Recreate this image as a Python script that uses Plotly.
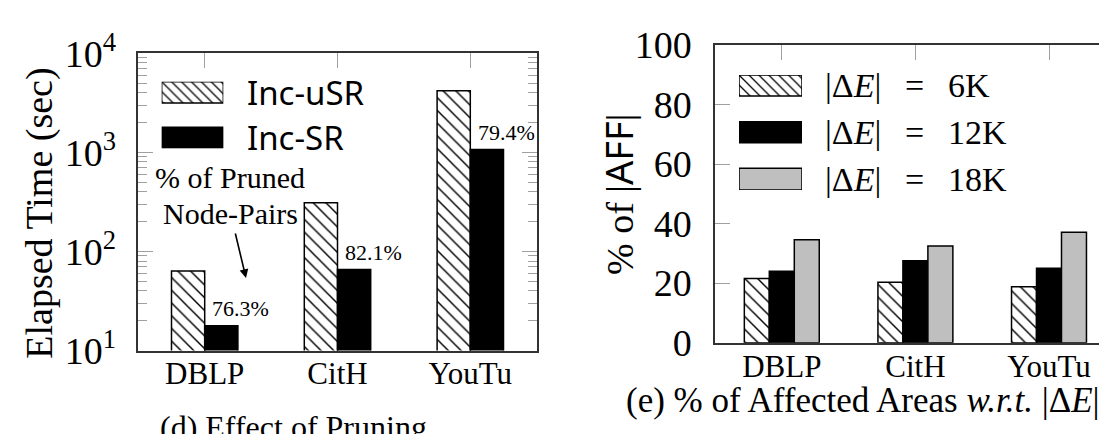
import math
import plotly.graph_objects as go

# ---------------- data ----------------
datasets = ["DBLP", "CitH", "YouTu"]
inc_usr = [63.4, 310, 4190]
inc_sr = [17.8, 65.6, 1070]
pruned_pct = ["76.3%", "82.1%", "79.4%"]

aff_6k = [21.6, 20.3, 18.8]
aff_12k = [24.0, 27.5, 25.0]
aff_18k = [34.6, 32.5, 37.1]

left_yticks = [10, 100, 1000, 10000]
left_yticktext = ["10<sup>1</sup>", "10<sup>2</sup>", "10<sup>3</sup>", "10<sup>4</sup>"]
right_yticks = [0, 20, 40, 60, 80, 100]

W, H = 1107, 434
OFF = 8  # page body margin of the html page

def fx(px):
    return (px - OFF) / W

def fy(py):
    return 1 - (py - OFF) / H

SERIF = "Liberation Serif"
SANS = "Noto Sans"
FRAME = "#333333"
TICK = "#a0a0a0"
GRAY = "#bfbfbf"

hatch = dict(shape="\\", fgcolor="black", bgcolor="white", size=9, solidity=0.16, fillmode="replace")
hatch_leg = dict(shape="\\", fgcolor="black", bgcolor="white", size=7, solidity=0.18, fillmode="replace")
edge = dict(color="black", width=1.5)

fig = go.Figure()

# ---- left chart (d) ----
fig.add_trace(go.Bar(x=datasets, y=inc_usr, xaxis="x", yaxis="y", width=0.25, offset=-0.25,
                     marker=dict(color="white", pattern=hatch, line=edge), showlegend=False))
fig.add_trace(go.Bar(x=datasets, y=inc_sr, xaxis="x", yaxis="y", width=0.25, offset=0.0,
                     marker=dict(color="black", line=edge), showlegend=False))

# ---- right chart (e) ----
bw = 0.187
fig.add_trace(go.Bar(x=datasets, y=aff_6k, xaxis="x2", yaxis="y2", width=bw, offset=-1.5 * bw,
                     marker=dict(color="white", pattern=hatch, line=edge), showlegend=False))
fig.add_trace(go.Bar(x=datasets, y=aff_12k, xaxis="x2", yaxis="y2", width=bw, offset=-0.5 * bw,
                     marker=dict(color="black", line=edge), showlegend=False))
fig.add_trace(go.Bar(x=datasets, y=aff_18k, xaxis="x2", yaxis="y2", width=bw, offset=0.5 * bw,
                     marker=dict(color=GRAY, line=edge), showlegend=False))

# ---- legend swatches (custom legend boxes) ----
def swatch(ax, ay, base, height, color, pattern=None):
    m = dict(color=color, line=edge)
    if pattern is not None:
        m["pattern"] = pattern
    return go.Bar(x=[0.5], y=[height], base=[base], width=1, offset=-0.5, xaxis=ax, yaxis=ay,
                  marker=m, showlegend=False, hoverinfo="skip")

fig.add_trace(swatch("x3", "y3", 45.3, 21.3, "white", hatch_leg))
fig.add_trace(swatch("x3", "y3", 0, 21.0, "black"))
fig.add_trace(swatch("x4", "y4", 94, 21.0, "white", hatch_leg))
fig.add_trace(swatch("x4", "y4", 47.3, 21.0, "black"))
fig.add_trace(swatch("x4", "y4", 0, 21.7, GRAY))

common_x = dict(type="category", range=[-0.5, 2.5], showline=True, linecolor=FRAME, linewidth=1.5,
                ticks="inside", ticklen=15, tickcolor=TICK, tickwidth=1, mirror="allticks",
                showgrid=False, zeroline=False, layer="below traces", automargin=False,
                ticklabelstandoff=-5,
                tickfont=dict(family=SERIF, size=31, color="black"))

minor_vals = [m * 10 ** k for k in range(1, 4) for m in range(2, 10)]
hidden = dict(visible=False, fixedrange=True, automargin=False, showgrid=False, zeroline=False)

fig.update_layout(
    template="none",
    width=W, height=H, margin=dict(l=0, r=0, t=0, b=0, autoexpand=False),
    paper_bgcolor="white", plot_bgcolor="white", barmode="group",
    xaxis=dict(common_x, domain=[fx(138.3), fx(536.7)], anchor="y"),
    yaxis=dict(type="log", range=[1, 4], domain=[fy(350.5), fy(53.3)], anchor="x",
               tickmode="array", tickvals=left_yticks, ticktext=left_yticktext,
               showline=True, linecolor=FRAME, linewidth=1.5, mirror="ticks",
               ticks="inside", ticklen=15, tickcolor=TICK, showgrid=False, zeroline=False,
               ticklabelstandoff=13, layer="below traces", automargin=False,
               minor=dict(tickmode="array", tickvals=minor_vals, ticks="inside", ticklen=9,
                          tickcolor=TICK, showgrid=False),
               tickfont=dict(family=SERIF, size=38, color="black")),
    xaxis2=dict(common_x, domain=[fx(715), fx(1107)], range=[-0.5, 2 + (1107 - 1049) / 133.6],
                anchor="y2"),
    yaxis2=dict(range=[0, 100], domain=[fy(342.7), fy(45)], anchor="x2",
                tickmode="array", tickvals=right_yticks,
                showline=True, linecolor=FRAME, linewidth=1.5, mirror=False,
                ticks="inside", ticklen=15, tickcolor=TICK, showgrid=False, zeroline=False,
                ticklabelstandoff=14, layer="below traces", automargin=False,
                tickfont=dict(family=SERIF, size=38, color="black")),
    yaxis5=dict(range=[0, 100], overlaying="y2", side="right", anchor="x2",
                tickmode="array", tickvals=right_yticks, ticks="inside", ticklen=7, tickcolor=TICK,
                showticklabels=False, showline=False, showgrid=False, zeroline=False, automargin=False),
    xaxis3=dict(hidden, range=[0, 1], domain=[fx(161.7), fx(223.3)], anchor="y3"),
    yaxis3=dict(hidden, range=[0, 66.6], domain=[fy(148.3), fy(81.7)], anchor="x3"),
    xaxis4=dict(hidden, range=[0, 1], domain=[fx(739), fx(802)], anchor="y4"),
    yaxis4=dict(hidden, range=[0, 115], domain=[fy(190), fy(75)], anchor="x4"),
)

ann = []
# percent labels above Inc-SR bars
for i, (v, t) in enumerate(zip(inc_sr, pruned_pct)):
    ann.append(dict(x=i + 0.27, y=math.log10(v), xref="x", yref="y", text=t, showarrow=False,
                    xanchor="center", yanchor="middle", yshift=17,
                    font=dict(family=SERIF, size=22, color="black")))

def label(px, py, text, size, family=SERIF, xanchor="center", angle=0):
    return dict(x=fx(px), y=fy(py), xref="paper", yref="paper", text=text, showarrow=False,
                xanchor=xanchor, yanchor="middle", textangle=angle,
                font=dict(family=family, size=size, color="black"))

# legend texts
ann += [label(245, 92.5, "Inc-uSR", 33, SANS, "left"),
        label(245, 137.8, "Inc-SR", 33, SANS, "left")]
sp = "\u2002\u2009"
leg_right = ["|Δ<i>E</i>|" + sp + "=" + sp + "6K",
             "|Δ<i>E</i>|" + sp + "=" + sp + "12K",
             "|Δ<i>E</i>|" + sp + "=" + sp + "18K"]
for t, yy in zip(leg_right, [85.5, 132.2, 179.2]):
    ann.append(label(823, yy, t, 34, SERIF, "left"))

# pruned note and arrow
ann += [
    label(229.7, 177, "% of Pruned", 30),
    label(230, 213.3, "Node-Pairs", 30),
    dict(x=fx(246), y=fy(278), xref="paper", yref="paper", text="", showarrow=True,
         ax=-11, ay=-46, arrowhead=2, arrowsize=1.1, arrowwidth=1.6, arrowcolor="black"),
]

# axis titles
ann += [
    label(40, 213.7, "Elapsed Time (sec)", 38, angle=-90),
    label(618, 195, "% of |<span style=\"font-family:'Noto Sans'\">AFF</span>|", 38, angle=-90),
]

# captions
ann += [
    label(293.3, 426.7, "(d) Effect of Pruning", 32),
    label(862.5, 400, "(e) % of Affected Areas <i>w.r.t.</i> |Δ<i>E</i>|", 35),
]

fig.update_layout(annotations=ann)
fig.write_html("out.html")
